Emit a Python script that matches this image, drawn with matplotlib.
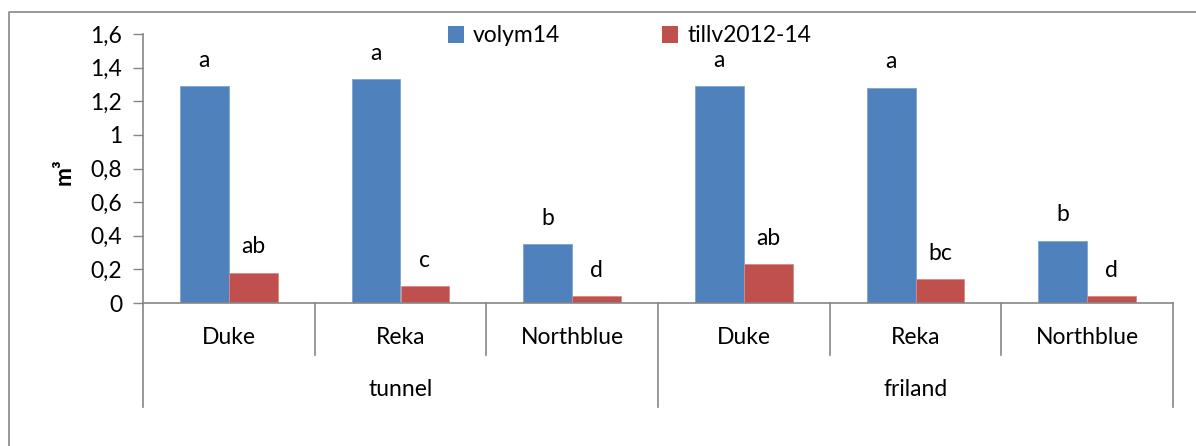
import matplotlib
matplotlib.use("Agg")
import matplotlib.pyplot as plt
from matplotlib.lines import Line2D
from matplotlib.patches import Patch
import matplotlib.transforms as mtransforms

plt.rcParams['font.family'] = ['Lato', 'DejaVu Sans']

# Data
cultivars = ["Duke", "Reka", "Northblue", "Duke", "Reka", "Northblue"]
systems = ["tunnel", "friland"]
volym14 = [1.29, 1.33, 0.35, 1.29, 1.28, 0.37]
tillv2012_14 = [0.18, 0.10, 0.04, 0.23, 0.14, 0.04]
letters_volym = ["a", "a", "b", "a", "a", "b"]
letters_tillv = ["ab", "c", "d", "ab", "bc", "d"]
yticks = [0, 0.2, 0.4, 0.6, 0.8, 1.0, 1.2, 1.4, 1.6]
ytick_labels = ["0", "0,2", "0,4", "0,6", "0,8", "1", "1,2", "1,4", "1,6"]

BLUE = "#4F81BD"
RED = "#C0504D"
AXIS = "#868686"
W, H = 1196, 446

fig = plt.figure(figsize=(W / 100, H / 100), dpi=100)
ax = fig.add_axes([143 / W, 1 - 303 / H, (1173 - 143) / W, (303 - 34) / H])

n = len(cultivars)
bw = 0.285
xs = [i + 0.5 for i in range(n)]
ax.bar([x - bw / 2 for x in xs], volym14, width=bw, color=BLUE,
       edgecolor="#7FA3D3", linewidth=0.6)
ax.bar([x + bw / 2 for x in xs], tillv2012_14, width=bw, color=RED,
       edgecolor="#D98A88", linewidth=0.6)

fs = 16.5
off = 26 / (269 / 1.6)  # label offset above bar, in data units
for x, v, t in zip(xs, volym14, letters_volym):
    ax.text(x - bw / 2, v + off, t, ha="center", va="center", fontsize=fs)
for x, v, t in zip(xs, tillv2012_14, letters_tillv):
    ax.text(x + bw / 2, v + off, t, ha="center", va="center", fontsize=fs)

ax.set_xlim(0, n)
ax.set_ylim(0, 1.6)
ax.set_yticks(yticks)
ax.set_yticklabels(ytick_labels, fontsize=fs)
ax.tick_params(axis="y", length=7, width=1, color=AXIS, direction="out", pad=8)
ax.set_xticks([])
for s in ["top", "right"]:
    ax.spines[s].set_visible(False)
for s in ["left", "bottom"]:
    ax.spines[s].set_color(AXIS)
    ax.spines[s].set_linewidth(1.2)

ax.set_ylabel("m³", fontsize=fs, fontweight="bold")
ax.yaxis.set_label_coords((75 - 143) / 1030, 0.49)

# Multi-level category axis
trans = mtransforms.blended_transform_factory(ax.transData, ax.transAxes)
inner = -(355 - 303) / 269
outer = -(407 - 303) / 269
for i in range(n + 1):
    low = outer if i % 3 == 0 else inner
    ax.plot([i, i], [0, low], color=AXIS, lw=1.2, transform=trans, clip_on=False)
for x, c in zip(xs, cultivars):
    ax.text(x, -(337 - 303) / 269, c, ha="center", va="center",
            fontsize=fs, transform=trans)
for j, s in enumerate(systems):
    ax.text(3 * j + 1.5, -(390 - 303) / 269, s, ha="center", va="center",
            fontsize=fs, transform=trans)

# Legend
handles = [Patch(facecolor=BLUE, label="volym14"),
           Patch(facecolor=RED, label="tillv2012-14")]
fig.legend(handles=handles, loc="center left",
           bbox_to_anchor=(448 / W, 1 - 36 / H), ncol=2, frameon=False,
           fontsize=fs, handlelength=0.7, handleheight=0.7,
           handletextpad=0.4, columnspacing=4.45, borderpad=0,
           borderaxespad=0)

# Chart frame
fig.add_artist(Line2D([9 / W, 9 / W, 1.0], [0.0, 1 - 12 / H, 1 - 12 / H],
                      transform=fig.transFigure, color=AXIS, lw=1.2))

fig.savefig("out.png", dpi=100)
